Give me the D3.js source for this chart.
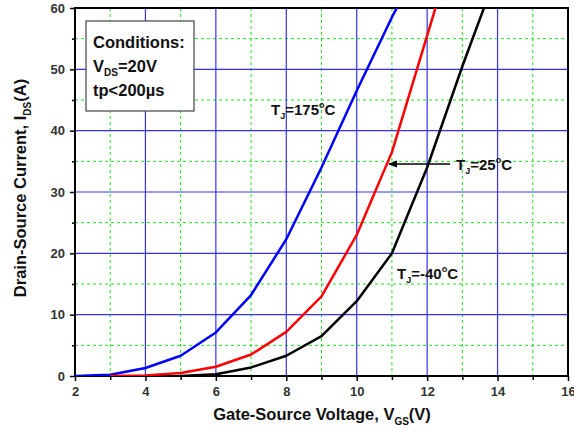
<!DOCTYPE html>
<html><head><meta charset="utf-8">
<script src="https://cdn.jsdelivr.net/npm/d3@7/dist/d3.min.js"></script>
<style>body{margin:0;background:#fff}svg{display:block}text{font-family:"Liberation Sans",Arial,sans-serif;font-weight:bold}</style>
</head><body><svg id="c" width="574" height="432"></svg>
<script>
// Data
const vgs175 = [2, 3, 4, 5, 6, 7, 8, 9, 10, 11, 11.5];
const ids175 = [0, 0.2, 1.3, 3.3, 7.1, 13.2, 22.3, 34, 46.5, 58.5, 64];
const vgs25 = [3, 4, 5, 6, 7, 8, 9, 10, 11, 12, 12.5];
const ids25 = [0, 0.1, 0.5, 1.5, 3.5, 7.2, 13, 23, 36.5, 55.5, 65];
const vgsM40 = [5, 6, 7, 8, 9, 10, 11, 12, 13, 14];
const idsM40 = [0, 0.3, 1.4, 3.3, 6.5, 12.2, 20, 34, 50.5, 66];
const xTicks = [2, 4, 6, 8, 10, 12, 14, 16];
const yTicks = [0, 10, 20, 30, 40, 50, 60];

const svg = d3.select("#c");
const L = 75, R = 568, T = 8, B = 376;
const x = d3.scaleLinear().domain([2, 16]).range([L, R]);
const y = d3.scaleLinear().domain([0, 60]).range([B, T]);

// minor grid (green dashed)
const g = svg.append("g");
d3.range(3, 16, 2).forEach(v => g.append("line").attr("x1", x(v)).attr("x2", x(v)).attr("y1", T).attr("y2", B)
  .attr("stroke", "#22dd22").attr("stroke-width", 1).attr("stroke-dasharray", "3,3"));
d3.range(5, 60, 10).forEach(v => g.append("line").attr("x1", L).attr("x2", R).attr("y1", y(v)).attr("y2", y(v))
  .attr("stroke", "#22dd22").attr("stroke-width", 1).attr("stroke-dasharray", "3,3"));
// major grid (blue)
xTicks.slice(1, -1).forEach(v => g.append("line").attr("x1", x(v)).attr("x2", x(v)).attr("y1", T).attr("y2", B)
  .attr("stroke", "#3333ee").attr("stroke-width", 1.2));
yTicks.slice(1, -1).forEach(v => g.append("line").attr("x1", L).attr("x2", R).attr("y1", y(v)).attr("y2", y(v))
  .attr("stroke", "#3333ee").attr("stroke-width", 1.2));

// axes
const xAx = svg.append("g").attr("transform", `translate(0,${B})`)
  .call(d3.axisBottom(x).tickValues(d3.range(2, 17, 1)).tickFormat(d => d % 2 === 0 ? d : "").tickSize(5).tickPadding(6));
const yAx = svg.append("g").attr("transform", `translate(${L},0)`)
  .call(d3.axisLeft(y).tickValues(d3.range(0, 61, 5)).tickFormat(d => d % 10 === 0 ? d : "").tickSize(5).tickPadding(5));
[xAx, yAx].forEach(a => {
  a.select(".domain").remove();
  a.selectAll("line").attr("stroke", "#000").attr("stroke-width", 1.5);
  a.selectAll("text").attr("font-size", 13).attr("fill", "#333").attr("font-family", "Liberation Sans, Arial, sans-serif").attr("font-weight", "bold");
});
yAx.selectAll(".tick").filter(d => d % 10 !== 0).select("line").attr("x2", -3);
xAx.selectAll(".tick").filter(d => d % 2 !== 0).select("line").attr("y2", 4);

// frame
svg.append("rect").attr("x", L).attr("y", T).attr("width", R - L).attr("height", B - T)
  .attr("fill", "none").attr("stroke", "#000").attr("stroke-width", 2);

// curves
svg.append("clipPath").attr("id", "clip").append("rect").attr("x", L).attr("y", T).attr("width", R - L).attr("height", B - T);
const line = d3.line().x(d => x(d[0])).y(d => y(d[1]));
const curves = [[vgs175, ids175, "#0000ff"], [vgs25, ids25, "#ff0000"], [vgsM40, idsM40, "#000000"]];
curves.forEach(([xs, ys, c]) => svg.append("path").attr("clip-path", "url(#clip)")
  .attr("d", line(xs.map((v, i) => [v, ys[i]]))).attr("fill", "none").attr("stroke", c).attr("stroke-width", 2.5)
  .attr("stroke-linejoin", "round"));

// Conditions box
svg.append("rect").attr("x", 86).attr("y", 21).attr("width", 108).attr("height", 90)
  .attr("fill", "#fff").attr("stroke", "#444").attr("stroke-width", 1.2);
const cb = svg.append("g").attr("font-size", 16.5).attr("fill", "#111");
cb.append("text").attr("x", 93).attr("y", 48).text("Conditions:");
const t2 = cb.append("text").attr("x", 93).attr("y", 72);
t2.append("tspan").text("V");
t2.append("tspan").attr("font-size", 10).attr("dy", 4).text("DS");
t2.append("tspan").attr("dy", -4).text("=20V");
cb.append("text").attr("x", 93).attr("y", 96).text("tp<200µs");

// annotations
function tj(xp, yp, val) {
  const t = svg.append("text").attr("x", xp).attr("y", yp).attr("font-size", 15).attr("fill", "#111");
  t.append("tspan").text("T");
  t.append("tspan").attr("font-size", 9).attr("dy", 4).text("J");
  t.append("tspan").attr("dy", -4).text("=" + val);
  t.append("tspan").attr("font-size", 9).attr("dy", -7).text("o");
  t.append("tspan").attr("dy", 7).text("C");
}
tj(271, 115, "175");
tj(456, 170, "25");
tj(397, 279, "-40");

// arrow
svg.append("defs").append("marker").attr("id", "ah").attr("viewBox", "0 0 10 10").attr("refX", 9).attr("refY", 5)
  .attr("markerWidth", 6).attr("markerHeight", 6).attr("orient", "auto")
  .append("path").attr("d", "M0,1L10,5L0,9Z").attr("fill", "#000");
svg.append("line").attr("x1", 450).attr("y1", 164).attr("x2", 389).attr("y2", 164)
  .attr("stroke", "#000").attr("stroke-width", 1.5).attr("marker-end", "url(#ah)");

// axis titles
const xl = svg.append("text").attr("x", 322).attr("y", 420).attr("text-anchor", "middle").attr("font-size", 16.5).attr("fill", "#111");
xl.append("tspan").text("Gate-Source Voltage, V");
xl.append("tspan").attr("font-size", 10).attr("dy", 5).text("GS");
xl.append("tspan").attr("dy", -5).text("(V)");
const yl = svg.append("text").attr("transform", "translate(26,188) rotate(-90)").attr("text-anchor", "middle").attr("font-size", 16.5).attr("fill", "#111");
yl.append("tspan").text("Drain-Source Current, I");
yl.append("tspan").attr("font-size", 10).attr("dy", 5).text("DS");
yl.append("tspan").attr("dy", -5).text("(A)");
</script></body></html>
